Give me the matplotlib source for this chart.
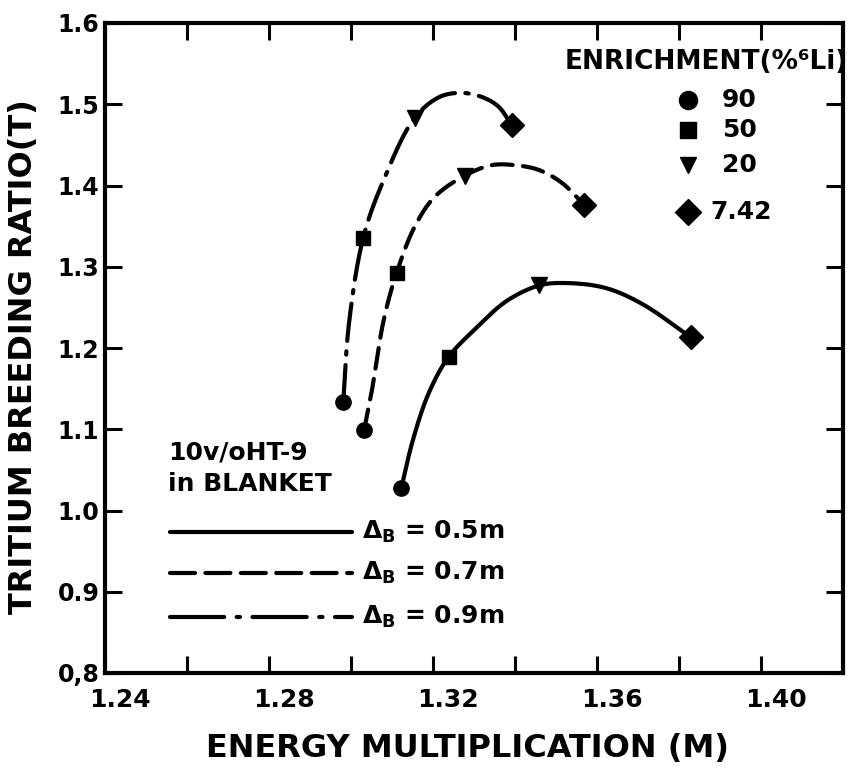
import numpy as np
import matplotlib
matplotlib.use("Agg")
import matplotlib.pyplot as plt
import matplotlib.transforms as mtransforms

plt.rcParams["font.family"] = ["DejaVu Sans"]
plt.rcParams["font.weight"] = "bold"
plt.rcParams["mathtext.default"] = "bf"

# enrichment (% 6Li) for the four points on each curve
enrichment = ["90", "50", "20", "7.42"]
markers = ["o", "s", "v", "D"]
marker_sizes = [11, 10, 11, 12]

# marker points: energy multiplication (M) and tritium breeding ratio (T)
m_05 = [1.3123, 1.3238, 1.3459, 1.3829]
t_05 = [1.028, 1.189, 1.277, 1.213]
m_07 = [1.3032, 1.3111, 1.3277, 1.3569]
t_07 = [1.099, 1.292, 1.412, 1.376]
m_09 = [1.2981, 1.3030, 1.3155, 1.3392]
t_09 = [1.133, 1.336, 1.483, 1.474]

# curves
curve_m_05 = [1.3123, 1.3150, 1.3190, 1.3238, 1.3300, 1.3380, 1.3459,
              1.3520, 1.3620, 1.3711, 1.3829]
curve_t_05 = [1.028, 1.085, 1.145, 1.189, 1.222, 1.258, 1.277,
              1.280, 1.274, 1.254, 1.213]
curve_m_07 = [1.3032, 1.3050, 1.3080, 1.3111, 1.3155, 1.3204,
              1.3277, 1.3343, 1.3400, 1.3459, 1.3515, 1.3569]
curve_t_07 = [1.099, 1.145, 1.235, 1.292, 1.349, 1.386,
              1.412, 1.425, 1.425, 1.419, 1.403, 1.376]
curve_m_09 = [1.2981, 1.2995, 1.3030, 1.3079, 1.3155, 1.3216,
              1.3270, 1.3319, 1.3360, 1.3392]
curve_t_09 = [1.133, 1.230, 1.336, 1.406, 1.483, 1.509,
              1.514, 1.509, 1.497, 1.474]

blanket_labels = [r"$\Delta_B$ = 0.5m", r"$\Delta_B$ = 0.7m", r"$\Delta_B$ = 0.9m"]
dash_styles = ["-", (0, (5, 2.5)), (0, (9, 2.5, 0.8, 2.5))]
key_dash_styles = ["-", (0, (6, 2.5)), (0, (13, 3, 0.8, 3))]

XSPAN, YSPAN = 0.18 / 738, 0.8 / 650


def smooth(xs, ys, n=30):
    # centripetal catmull-rom through the traced points, in pixel-like units
    p = np.column_stack([np.asarray(xs) / XSPAN, np.asarray(ys) / YSPAN])
    pts = np.vstack([2 * p[0] - p[1], p, 2 * p[-1] - p[-2]])
    out = []
    for i in range(1, len(pts) - 2):
        p0, p1, p2, p3 = pts[i - 1], pts[i], pts[i + 1], pts[i + 2]
        t0 = 0.0
        t1 = t0 + np.linalg.norm(p1 - p0) ** 0.5
        t2 = t1 + np.linalg.norm(p2 - p1) ** 0.5
        t3 = t2 + np.linalg.norm(p3 - p2) ** 0.5
        t = np.linspace(t1, t2, n)[:, None]
        a1 = (t1 - t) / (t1 - t0) * p0 + (t - t0) / (t1 - t0) * p1
        a2 = (t2 - t) / (t2 - t1) * p1 + (t - t1) / (t2 - t1) * p2
        a3 = (t3 - t) / (t3 - t2) * p2 + (t - t2) / (t3 - t2) * p3
        b1 = (t2 - t) / (t2 - t0) * a1 + (t - t0) / (t2 - t0) * a2
        b2 = (t3 - t) / (t3 - t1) * a2 + (t - t1) / (t3 - t1) * a3
        out.append((t2 - t) / (t2 - t1) * b1 + (t - t1) / (t2 - t1) * b2)
    out = np.vstack(out)
    return out[:, 0] * XSPAN, out[:, 1] * YSPAN


fig = plt.figure(figsize=(8.57, 7.75), dpi=100)
ax = fig.add_axes([105 / 857, 102 / 775, 738 / 857, 650 / 775])

curves = [(curve_m_05, curve_t_05), (curve_m_07, curve_t_07), (curve_m_09, curve_t_09)]
points = [(m_05, t_05), (m_07, t_07), (m_09, t_09)]
for (cm, ct), (pm, pt), ls in zip(curves, points, dash_styles):
    sx, sy = smooth(cm, ct)
    ax.plot(sx, sy, color="black", lw=3, linestyle=ls, dash_capstyle="round",
            solid_capstyle="round")
    for x, y, mk, ms in zip(pm, pt, markers, marker_sizes):
        ax.plot(x, y, marker=mk, ms=ms, color="black", linestyle="none")

ax.set_xlim(1.24, 1.42)
ax.set_ylim(0.8, 1.6)
ax.set_xticks([1.24, 1.28, 1.32, 1.36, 1.40])
ax.set_xticklabels(["1.24", "1.28", "1.32", "1.36", "1.40"])
ax.set_xticks(np.arange(1.26, 1.41, 0.04), minor=True)
ax.set_yticks(np.arange(0.8, 1.61, 0.1))
ax.set_yticklabels(["0,8", "0.9", "1.0", "1.1", "1.2", "1.3", "1.4", "1.5", "1.6"])
ax.tick_params(which="both", direction="in", length=12, width=2.2, top=True, right=True)
ax.tick_params(axis="x", labelsize=18, pad=11)
ax.tick_params(axis="y", labelsize=17, pad=4)
for s in ax.spines.values():
    s.set_linewidth(3)

offset = mtransforms.ScaledTranslation(0.15, 0, fig.dpi_scale_trans)
for lab in ax.get_xticklabels():
    lab.set_transform(lab.get_transform() + offset)

fig.text(467 / 857, 1 - 748 / 775, "ENERGY MULTIPLICATION (M)", fontsize=23,
         fontweight="bold", ha="center", va="center")
fig.text(24 / 857, 1 - 357 / 775, "TRITIUM BREEDING RATIO(T)", fontsize=23,
         fontweight="bold", ha="center", va="center", rotation=90)


def axpos(px, py):
    return (px - 105) / 738, (673 - py) / 650


# enrichment key
ax.text(*axpos(848, 62), "ENRICHMENT(%\u2076Li)", transform=ax.transAxes, fontsize=19,
        fontweight="bold", ha="right", va="center")
key_y = [100, 130, 165, 212]
key_ms = [13, 12, 12, 13]
for lab, mk, ms, ky in zip(enrichment, markers, key_ms, key_y):
    ax.plot(*axpos(688, ky), marker=mk, ms=ms, color="black", transform=ax.transAxes,
            clip_on=False)
    lx = 710 if lab == "7.42" else 722
    ax.text(*axpos(lx, ky), lab, transform=ax.transAxes, fontsize=18,
            fontweight="bold", ha="left", va="center")

# blanket key
ax.text(*axpos(168, 453), "10v/oHT-9", transform=ax.transAxes, fontsize=18,
        fontweight="bold", ha="left", va="center")
ax.text(*axpos(168, 484), "in BLANKET", transform=ax.transAxes, fontsize=18,
        fontweight="bold", ha="left", va="center")
line_y = [532, 573, 617]
for lab, ls, ly in zip(blanket_labels, key_dash_styles, line_y):
    x0, y0 = axpos(170, ly)
    x1, _ = axpos(352, ly)
    ax.plot([x0, x1], [y0, y0], color="black", lw=3, linestyle=ls, transform=ax.transAxes,
            dash_capstyle="round", solid_capstyle="round")
    ax.text(*axpos(362, ly), lab, transform=ax.transAxes, fontsize=18,
            fontweight="bold", ha="left", va="center")

fig.savefig("out.png", dpi=100)
